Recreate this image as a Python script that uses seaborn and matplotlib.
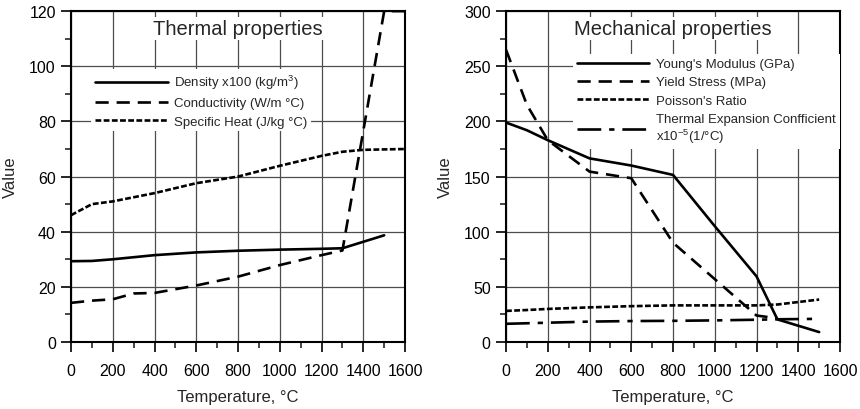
import matplotlib
matplotlib.use("Agg")
import matplotlib.pyplot as plt
import numpy as np
import pandas as pd
import seaborn as sns
from matplotlib.ticker import MultipleLocator

# ---- data ----
thermal_temp = [0, 100, 200, 400, 600, 800, 1000, 1200, 1300, 1500, 1600]
density = [29.3, 29.4, 30.0, 31.5, 32.5, 33.1, 33.5, 33.8, 34.0, 38.7, np.nan]
cond_temp = [0, 100, 200, 300, 400, 600, 800, 1000, 1200, 1300, 1500, 1600]
conductivity = [14.2, 15.0, 15.5, 17.6, 17.8, 20.5, 23.7, 27.9, 31.5, 33.2, 120.0, 120.0]
heat_temp = [0, 100, 200, 400, 600, 800, 1000, 1200, 1300, 1400, 1600]
specific_heat = [46.0, 50.0, 51.0, 54.0, 57.6, 60.0, 63.9, 67.5, 69.0, 69.7, 70.0]

mech_temp = [0, 100, 200, 400, 600, 800, 1000, 1200, 1300, 1500]
youngs = [199, 192, 183, 166.5, 160, 151.5, 105, 59.5, 20.5, 9]
yield_stress = [265, 215, 183, 154.5, 148.5, 90, 57, 24, 21.5, np.nan]
poisson = [28.2, 29, 30, 31.4, 32.5, 33.2, 33.2, 33.2, 34, 38.5]
expansion = [16.5, 17, 17.5, 18.5, 19, 19.2, 19.6, 20.2, 20.6, 21]

sns.set_style("ticks")
plt.rcParams["font.family"] = ["Liberation Sans", "DejaVu Sans"]
plt.rcParams["mathtext.fontset"] = "custom"
plt.rcParams["mathtext.rm"] = "Liberation Sans"
plt.rcParams["mathtext.it"] = "Liberation Sans"

fig = plt.figure(figsize=(8.6, 4.1), dpi=100)
ax1 = fig.add_axes([0.0826, 0.1634, 0.3884, 0.807])
ax2 = fig.add_axes([0.5884, 0.1634, 0.3884, 0.807])

SOLID = "-"
DASH = (0, (5, 3))
SHORT = (0, (2.2, 0.9))
DASHDOT = (0, (9, 3, 2, 3))
LW = 1.9

def draw(ax, x, y, label, ls):
    df = pd.DataFrame({"x": x, "y": y}).dropna()
    sns.lineplot(data=df, x="x", y="y", ax=ax, label=label, color="black",
                 linestyle=ls, linewidth=LW, sort=False, estimator=None)

draw(ax1, thermal_temp, density, "Density x100 (kg/m$^3$)", SOLID)
draw(ax1, cond_temp, conductivity, "Conductivity (W/m °C)", DASH)
draw(ax1, heat_temp, specific_heat, "Specific Heat (J/kg °C)", SHORT)

draw(ax2, mech_temp, youngs, "Young's Modulus (GPa)", SOLID)
draw(ax2, mech_temp, yield_stress, "Yield Stress (MPa)", DASH)
draw(ax2, mech_temp, poisson, "Poisson's Ratio", SHORT)
draw(ax2, mech_temp, expansion,
     "Thermal Expansion Confficient\nx10$^{-5}$(1/°C)", DASHDOT)

for ax, ymax, ystep, title, leg_anchor in [
    (ax1, 120, 20, "Thermal properties", (0.04, 0.845)),
    (ax2, 300, 50, "Mechanical properties", (0.18, 0.89)),
]:
    ax.set_xlim(0, 1600)
    ax.set_ylim(0, ymax)
    ax.xaxis.set_major_locator(MultipleLocator(200))
    ax.xaxis.set_minor_locator(MultipleLocator(100))
    ax.yaxis.set_major_locator(MultipleLocator(ystep))
    ax.yaxis.set_minor_locator(MultipleLocator(ystep / 2))
    ax.grid(True, which="major", color="0.3", linewidth=0.9)
    ax.tick_params(which="major", direction="out", length=7, width=1.2,
                   labelsize=11.5, pad=4, colors="black")
    ax.tick_params(axis="x", which="major", pad=8)
    ax.tick_params(which="minor", direction="out", length=4, width=1.2)
    for sp in ax.spines.values():
        sp.set_visible(True)
        sp.set_linewidth(1.5)
        sp.set_color("black")
    ax.set_xlabel("Temperature, °C", fontsize=12, labelpad=8)
    ax.set_ylabel("Value", fontsize=12, labelpad=8)
    ax.text(0.5, 0.977, title, transform=ax.transAxes, ha="center", va="top",
            fontsize=14.5, zorder=5,
            bbox=dict(facecolor="white", edgecolor="none", pad=1.5))
    leg = ax.legend(loc="upper left", bbox_to_anchor=leg_anchor, fontsize=9.5,
                    handlelength=5.5, handletextpad=0.5, labelspacing=0.45,
                    frameon=True, fancybox=False, borderpad=0.3)
    leg.get_frame().set_facecolor("white")
    leg.get_frame().set_edgecolor("none")
    leg.get_frame().set_alpha(1)

fig.savefig("out.png", dpi=100)
